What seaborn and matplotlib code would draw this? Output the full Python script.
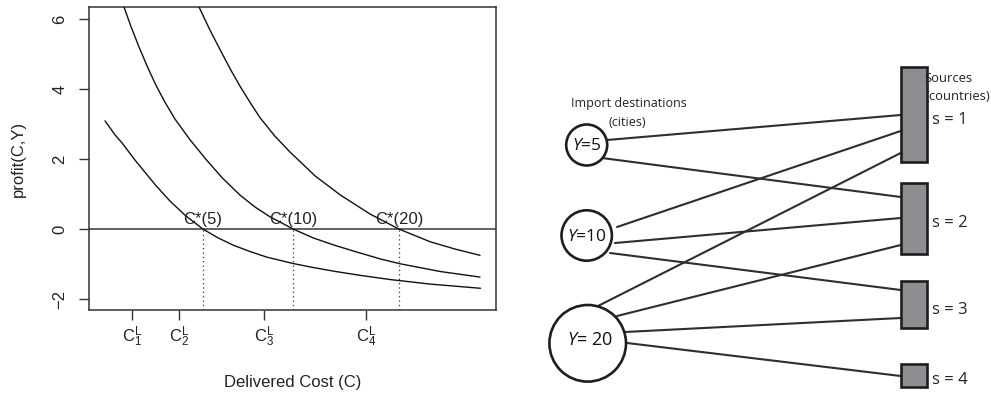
import matplotlib
matplotlib.use("Agg")
import matplotlib.pyplot as plt
import seaborn as sns
import pandas as pd
from matplotlib.patches import Circle, Rectangle

# ---------------- data ----------------
city_sizes = [5, 10, 20]
curve_cost_y5 = [1.6, 2.6, 3.33, 4.6, 6.67, 8.1, 9.67, 11.4, 12.9, 14.43, 16.1, 17.77,
                 20.37, 22.1, 24.43, 27.1, 30.1, 34.1, 39.15]
curve_profit_y5 = [3.09, 2.69, 2.45, 1.97, 1.25, 0.80, 0.38, 0.0, -0.25, -0.46, -0.64, -0.80,
                   -0.98, -1.08, -1.2, -1.32, -1.44, -1.57, -1.69]
curve_cost_y10 = [3.2, 3.5, 4.2, 5.0, 5.8, 6.67, 7.6, 8.6, 10.1, 11.67, 13.3, 15.1, 16.6,
                  18.1, 20.43, 22.4, 24.43, 26.6, 29.1, 31.1, 35.1, 39.1]
curve_profit_y10 = [6.6, 6.34, 5.78, 5.2, 4.66, 4.12, 3.62, 3.14, 2.55, 2.0, 1.47, 0.97, 0.63,
                    0.35, 0.0, -0.25, -0.45, -0.64, -0.85, -0.99, -1.21, -1.37]
curve_cost_y20 = [10.7, 11.0, 12.1, 13.33, 14.2, 15.1, 16.1, 17.1, 18.6, 20.1, 22.6, 25.1,
                  28.1, 31.0, 34.1, 36.6, 39.1]
curve_profit_y20 = [6.55, 6.34, 5.68, 5.0, 4.53, 4.08, 3.62, 3.18, 2.65, 2.2, 1.52, 0.98,
                    0.43, 0.0, -0.36, -0.57, -0.75]
breakeven_cost = [11.4, 20.4, 31.0]
breakeven_labels = ["C*(5)", "C*(10)", "C*(20)"]
cost_ticks = [4.3, 9.0, 17.5, 27.7]
cost_tick_labels = [r"$\mathrm{C}_1^\mathrm{L}$", r"$\mathrm{C}_2^\mathrm{L}$",
                    r"$\mathrm{C}_3^\mathrm{L}$", r"$\mathrm{C}_4^\mathrm{L}$"]
profit_ticks = [-2, 0, 2, 4, 6]

destination_labels = [r"$Y$=5", r"$Y$=10", r"$Y$= 20"]
source_labels = ["s = 1", "s = 2", "s = 3", "s = 4"]
source_sizes = [4, 3, 2, 1]
edges = [(0, 0), (0, 1), (1, 0), (1, 1), (1, 2), (2, 0), (2, 1), (2, 2), (2, 3)]

# ---------------- layout (pixel coordinates of the right panel) ----------------
dest_centers = [(586.7, 145.0), (586.7, 235.5), (587.7, 343.3)]
dest_radius = [20.5, 25.2, 38.3]
dest_text_pos = [(586.5, 146.5), (587.0, 237.0), (590.0, 340.0)]
dest_font = [12.5, 12.5, 13.0]
src_x0, src_w = 900.7, 26.0
src_top = [67.3, 183.0, 281.0, 363.5]
unit_h = 23.6
src_label_y = [120, 223, 310, 380]
edge_start = [(607, 140), (602, 158), (617, 227), (615, 243), (610, 253),
              (598, 306), (617, 316), (625, 332), (627, 343)]
edge_end_y = [115, 197, 131, 218, 290, 153, 245, 318, 376]

# ---------------- style ----------------
sns.set_theme(style="white")
plt.rcParams["font.family"] = ["Liberation Sans", "DejaVu Sans"]
plt.rcParams["mathtext.fontset"] = "custom"
plt.rcParams["mathtext.rm"] = "Liberation Sans"
plt.rcParams["mathtext.it"] = "Open Sans:italic"

W, H = 991, 397
fig = plt.figure(figsize=(W / 100, H / 100), dpi=100)

# ---------------- left panel ----------------
L, R, T, B = 89, 496, 7, 310
ax = fig.add_axes([L / W, (H - B) / H, (R - L) / W, (B - T) / H])
ax.set_facecolor("white")

frames = []
for size, cx, cp in [(5, curve_cost_y5, curve_profit_y5),
                     (10, curve_cost_y10, curve_profit_y10),
                     (20, curve_cost_y20, curve_profit_y20)]:
    frames.append(pd.DataFrame({"cost": cx, "profit": cp, "Y": size}))
df = pd.concat(frames, ignore_index=True)

ax.axhline(0, color="#555555", lw=1.3, zorder=1)
sns.lineplot(data=df, x="cost", y="profit", units="Y", estimator=None,
             color="#111111", lw=1.0, sort=False, ax=ax, zorder=3)
ax.set_xlim(0, 40.7)
ax.set_ylim(-2.31, 6.34)

for c, lab in zip(breakeven_cost, breakeven_labels):
    ax.vlines(c, -2.31, 0, colors="#333333", linestyles=(0, (1, 2.5)), lw=0.9)
    ax.text(c, 0.07, lab, ha="center", va="bottom", fontsize=12, color="#222222")

ax.set_xticks(cost_ticks)
ax.set_xticklabels(cost_tick_labels, fontsize=12)
ax.set_yticks(profit_ticks)
ax.set_yticklabels([str(v).replace("-", "\u2212") for v in profit_ticks], fontsize=12)
for lbl in ax.get_yticklabels():
    lbl.set_rotation(90)
    lbl.set_va("center")
    lbl.set_ha("right")
ax.tick_params(axis="both", which="both", direction="out", length=7.5, width=1,
               color="#333333", labelcolor="#222222", left=True, bottom=True)
ax.tick_params(axis="y", pad=8)
ax.tick_params(axis="x", pad=3)
for s in ax.spines.values():
    s.set_visible(True)
    s.set_color("#333333")
    s.set_linewidth(1.1)

ax.set_xlabel("Delivered Cost (C)", fontsize=12, color="#222222")
ax.set_ylabel("profit(C,Y)", fontsize=12, color="#222222")
ax.xaxis.label.set_va("center")
ax.xaxis.set_label_coords(0.5, (B - 383) / (B - T))
ax.yaxis.label.set_va("center")
ax.yaxis.set_label_coords((18 - L) / (R - L), 0.5)

# ---------------- right panel ----------------
X0 = 530
ax2 = fig.add_axes([X0 / W, 0, (W - X0) / W, 1])
ax2.set_xlim(X0, W)
ax2.set_ylim(H, 0)
ax2.axis("off")

for (di, si), (sx, sy), ey in zip(edges, edge_start, edge_end_y):
    sns.lineplot(x=[sx, src_x0], y=[sy, ey], color="#2e2e2e", lw=1.5, ax=ax2,
                 sort=False, zorder=2)

for (cx, cy), r in zip(dest_centers, dest_radius):
    ax2.add_patch(Circle((cx, cy), r, facecolor="white", edgecolor="#1e1e1e",
                         lw=1.9, zorder=3))
for lab, (tx, ty), fs in zip(destination_labels, dest_text_pos, dest_font):
    ax2.text(tx, ty, lab, ha="center", va="center", fontsize=fs,
             family=["Open Sans", "DejaVu Sans"], color="#111111", zorder=4)

for top, size in zip(src_top, source_sizes):
    ax2.add_patch(Rectangle((src_x0, top), src_w, size * unit_h, facecolor="#8e8e92",
                            edgecolor="#1e1e1e", lw=1.9, zorder=3))
for lab, ly in zip(source_labels, src_label_y):
    ax2.text(932.5, ly, lab, ha="left", va="center", fontsize=12,
             family=["Open Sans", "DejaVu Sans"], color="#222222", zorder=4)

ax2.text(628.5, 104, "Import destinations", ha="center", va="center", fontsize=9,
         family=["Open Sans", "DejaVu Sans"], color="#222222")
ax2.text(627, 122, "(cities)", ha="center", va="center", fontsize=9,
         family=["Open Sans", "DejaVu Sans"], color="#222222")
ax2.text(924.5, 79, "Sources", ha="left", va="center", fontsize=9.4,
         family=["Open Sans", "DejaVu Sans"], color="#222222", zorder=5)
ax2.text(925.5, 97, "(countries)", ha="left", va="center", fontsize=9.4,
         family=["Open Sans", "DejaVu Sans"], color="#222222", zorder=5)

fig.savefig("out.png", dpi=100, facecolor="white")
